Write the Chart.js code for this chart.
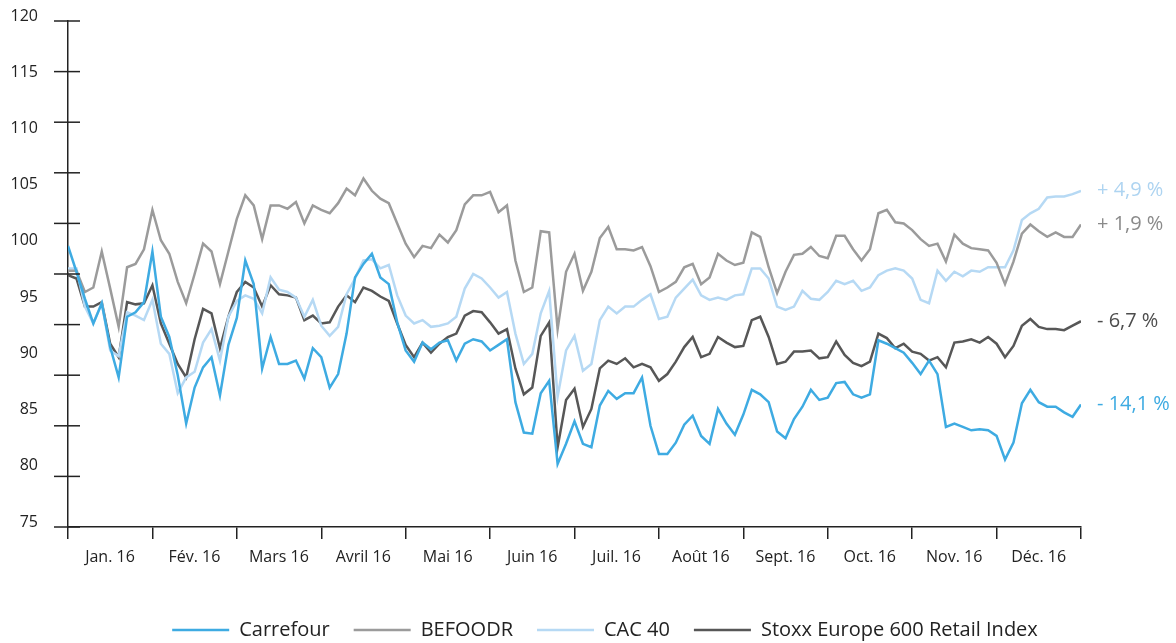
<!DOCTYPE html>
<html>
<head>
<meta charset="utf-8">
<script src="https://cdn.jsdelivr.net/npm/chart.js@4/dist/chart.umd.min.js"></script>
<style>
html,body{margin:0;padding:0;background:#fff}
#wrap{width:1176px;height:643px;position:relative}
</style>
</head>
<body>
<div id="wrap"><canvas id="c"></canvas></div>
<script>
// ---- data (index base 100, ~10 samples per month) ----
const months = ['Jan. 16','Fév. 16','Mars 16','Avril 16','Mai 16','Juin 16','Juil. 16','Août 16','Sept. 16','Oct. 16','Nov. 16','Déc. 16'];
const seriesNames = ['Carrefour','BEFOODR','CAC 40','Stoxx Europe 600 Retail Index'];
const endLabels = ['- 14,1 %','+ 1,9 %','+ 4,9 %','- 6,7 %'];
const yMin = 75, yMax = 120, yStep = 5;

const carrefour = [
 100.0, 97.7, 95.3, 93.1, 94.9, 91.0, 88.3, 93.7, 94.1, 95.0, 99.5, 93.7, 91.9, 88.5, 84.2, 87.4, 89.2, 90.1, 86.7, 91.2,
 93.6, 98.7, 96.6, 89.1, 91.9, 89.5, 89.5, 89.8, 88.2, 90.9, 90.1, 87.4, 88.6, 92.2, 97.2, 98.4, 99.3, 97.2, 96.6, 93.2,
 90.7, 89.7, 91.4, 90.8, 91.4, 91.6, 89.8, 91.3, 91.7, 91.5, 90.7, 91.2, 91.7, 86.1, 83.4, 83.3, 86.9, 88.0, 80.6, 82.4,
 84.4, 82.4, 82.1, 85.8, 87.1, 86.4, 86.9, 86.9, 88.3, 84.0, 81.5, 81.5, 82.5, 84.1, 84.9, 83.1, 82.4, 85.5, 84.2, 83.2,
 85.0, 87.2, 86.8, 86.1, 83.5, 82.9, 84.6, 85.7, 87.2, 86.3, 86.5, 87.8, 87.9, 86.8, 86.5, 86.8, 91.6, 91.3, 90.9, 90.5,
 89.6, 88.6, 89.8, 88.6, 83.9, 84.2, 83.9, 83.6, 83.7, 83.6, 83.1, 81.0, 82.5, 86.0, 87.2, 86.1, 85.7, 85.7, 85.2, 84.8,
 85.9
];
const befoodr = [
 97.8, 97.8, 95.9, 96.3, 99.5, 96.2, 92.8, 98.1, 98.4, 99.7, 103.2, 100.5, 99.3, 96.8, 94.9, 97.5, 100.2, 99.5, 96.6, 99.5,
 102.4, 104.5, 103.6, 100.6, 103.6, 103.6, 103.3, 103.9, 102.0, 103.6, 103.2, 102.9, 103.8, 105.1, 104.5, 106.0, 104.9, 104.2, 103.8, 102.0,
 100.2, 99.0, 100.0, 99.8, 101.0, 100.3, 101.4, 103.7, 104.5, 104.5, 104.8, 103.0, 103.6, 98.7, 95.9, 96.3, 101.3, 101.2, 92.6, 97.7,
 99.3, 96.0, 97.7, 100.7, 101.7, 99.7, 99.7, 99.6, 99.9, 98.2, 95.9, 96.3, 96.8, 98.1, 98.4, 96.6, 97.2, 99.3, 98.7, 98.3,
 98.5, 101.2, 100.8, 98.1, 95.8, 97.7, 99.2, 99.3, 99.9, 99.1, 98.9, 100.9, 100.9, 99.7, 98.7, 99.7, 102.9, 103.2, 102.1, 102.0,
 101.4, 100.6, 100.0, 100.2, 98.6, 101.0, 100.2, 99.8, 99.7, 99.6, 98.5, 96.6, 98.6, 101.1, 101.9, 101.3, 100.8, 101.2, 100.8, 100.8,
 101.9
];
const cac40 = [
 98.0, 98.0, 94.6, 93.1, 94.9, 90.7, 90.2, 94.1, 93.8, 93.4, 95.2, 91.3, 90.4, 86.9, 88.3, 88.8, 91.4, 92.6, 89.8, 93.7,
 95.1, 95.6, 95.3, 94.0, 97.2, 96.1, 95.9, 95.4, 93.7, 95.2, 92.9, 92.0, 92.8, 95.7, 97.1, 98.7, 98.8, 98.0, 98.3, 95.6,
 93.8, 93.1, 93.4, 92.8, 92.9, 93.1, 93.7, 96.2, 97.5, 97.1, 96.3, 95.4, 95.9, 92.2, 89.5, 90.4, 94.0, 96.0, 86.6, 90.7,
 92.0, 88.9, 89.5, 93.4, 94.6, 94.0, 94.6, 94.6, 95.2, 95.7, 93.5, 93.7, 95.4, 96.2, 97.0, 95.6, 95.2, 95.4, 95.2, 95.6,
 95.7, 98.0, 98.0, 97.1, 94.6, 94.3, 94.6, 96.0, 95.3, 95.2, 95.9, 96.9, 96.6, 96.9, 96.0, 96.3, 97.4, 97.8, 98.0, 97.8,
 97.1, 95.2, 94.9, 97.8, 96.9, 97.7, 97.3, 97.8, 97.7, 98.1, 98.1, 98.1, 99.6, 102.3, 102.9, 103.3, 104.3, 104.4, 104.4, 104.6,
 104.9
];
const stoxx = [
 97.4, 97.1, 94.6, 94.6, 95.0, 91.3, 90.1, 95.0, 94.8, 94.9, 96.5, 93.1, 91.3, 89.5, 88.3, 91.7, 94.4, 94.0, 90.9, 93.7,
 95.9, 96.8, 96.3, 94.6, 96.5, 95.7, 95.6, 95.4, 93.4, 93.8, 93.1, 93.2, 94.6, 95.6, 95.0, 96.3, 96.0, 95.5, 95.1, 93.1,
 91.2, 90.1, 91.4, 90.5, 91.3, 91.9, 92.2, 93.8, 94.2, 94.1, 93.2, 92.2, 92.6, 89.1, 86.8, 87.4, 92.0, 93.2, 82.1, 86.3,
 87.3, 83.9, 85.5, 89.1, 89.8, 89.5, 90.0, 89.2, 89.5, 89.2, 88.0, 88.6, 89.7, 91.0, 91.9, 90.1, 90.4, 91.9, 91.4, 91.0,
 91.1, 93.4, 93.7, 91.9, 89.5, 89.7, 90.6, 90.6, 90.7, 90.0, 90.1, 91.5, 90.3, 89.6, 89.3, 89.7, 92.2, 91.8, 90.9, 91.3,
 90.6, 90.4, 89.8, 90.1, 89.2, 91.4, 91.5, 91.7, 91.4, 91.9, 91.3, 90.1, 91.1, 92.9, 93.5, 92.8, 92.6, 92.6, 92.5, 92.9,
 93.3
];

// ---- styles ----
const lineColors = ['#3eabe2', '#9b9b9b', '#b6d9f4', '#575757'];
const labelColors = ['#3eabe2', '#8a8a8a', '#aed4f1', '#4d4d4d'];
const axisColor = '#222222';
const textColor = '#222222';
const FONT = '"Open Sans", "DejaVu Sans", sans-serif';
const samplesPerMonth = 10;

const seriesValues = [carrefour, befoodr, cac40, stoxx];
const datasets = seriesValues.map((vals, i) => ({
  label: seriesNames[i],
  data: vals.map((v, k) => ({x: k, y: v})),
  borderColor: lineColors[i],
  backgroundColor: lineColors[i],
  borderWidth: 2.5,
  pointRadius: 0,
  tension: 0,
  fill: false
}));

const decor = {
  id: 'decor',
  afterLayout(chart) {
    // nudge the legend block to the right, as in the reference
    if (chart.legend) { chart.legend.left += 34; }
  },
  afterDraw(chart) {
    const ctx = chart.ctx, a = chart.chartArea, m = chart.scales.ymark, y = chart.scales.y;
    ctx.save();
    ctx.strokeStyle = axisColor;
    ctx.lineWidth = 1.5;
    for (let k = m.min; k <= m.max; k++) {
      const py = m.getPixelForValue(k);
      ctx.beginPath();
      ctx.moveTo(a.left - 14, py);
      ctx.lineTo(a.left + 12, py);
      ctx.stroke();
    }
    ctx.font = '20px ' + FONT;
    ctx.textAlign = 'left';
    ctx.textBaseline = 'middle';
    chart.data.datasets.forEach((ds, i) => {
      const last = ds.data[ds.data.length - 1];
      ctx.fillStyle = labelColors[i];
      ctx.fillText(endLabels[i], a.right + 16, y.getPixelForValue(last.y));
    });
    ctx.restore();
  }
};

new Chart(document.getElementById('c'), {
  type: 'line',
  data: { datasets },
  plugins: [decor],
  options: {
    responsive: true,
    maintainAspectRatio: false,
    animation: false,
    events: [],
    layout: { padding: { top: 21, left: 0, right: 0, bottom: -7 } },
    scales: {
      x: {
        type: 'linear',
        min: 0,
        max: months.length * samplesPerMonth,
        afterFit: s => { s.height = 69; },
        grid: { display: true, drawOnChartArea: false, drawTicks: true, tickLength: 12, color: axisColor, lineWidth: 1.5 },
        border: { display: true, color: axisColor, width: 1.5 },
        ticks: {
          stepSize: samplesPerMonth,
          autoSkip: false,
          maxRotation: 0,
          padding: 9,
          labelOffset: 42,
          color: textColor,
          font: { family: FONT, size: 16 },
          callback: v => months[v / samplesPerMonth] || ''
        }
      },
      y: {
        position: 'left',
        min: yMin,
        max: yMax,
        afterFit: s => { s.width = 68; },
        grid: { display: true, drawOnChartArea: false, drawTicks: true, tickLength: 30, tickColor: 'rgba(0,0,0,0)' },
        border: { display: true, color: axisColor, width: 1.5 },
        ticks: { stepSize: yStep, padding: 0, labelOffset: -5, color: textColor, font: { family: FONT, size: 16 } }
      },
      ymark: { position: 'left', display: false, min: 0, max: 10 },
      yR: {
        position: 'right',
        display: true,
        afterFit: s => { s.width = 95; },
        grid: { display: false },
        border: { display: false },
        ticks: { display: false }
      }
    },
    plugins: {
      tooltip: { enabled: false },
      title: { display: false },
      legend: {
        position: 'bottom',
        align: 'center',
        labels: {
          usePointStyle: true,
          pointStyle: 'line',
          pointStyleWidth: 57,
          boxHeight: 20,
          padding: 24,
          color: textColor,
          font: { family: FONT, size: 20 }
        }
      }
    }
  }
});
</script>
</body>
</html>
